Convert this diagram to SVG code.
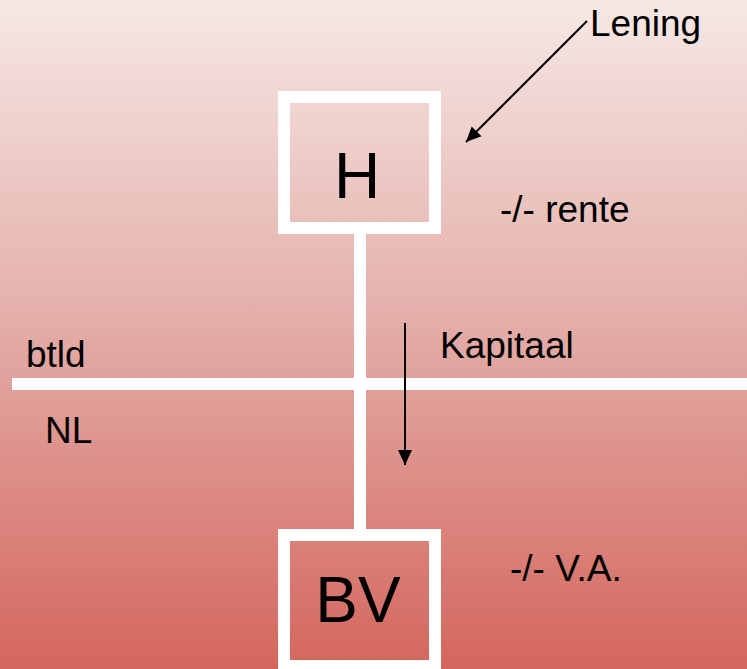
<svg xmlns="http://www.w3.org/2000/svg" width="747" height="669" viewBox="0 0 747 669">
  <defs>
    <linearGradient id="bg" x1="0" y1="0" x2="0" y2="1">
      <stop offset="0" stop-color="#F6E8E5"/>
      <stop offset="0.5" stop-color="#E3ABA6"/>
      <stop offset="1" stop-color="#D4665D"/>
    </linearGradient>
    <marker id="arr" markerUnits="userSpaceOnUse" markerWidth="16" markerHeight="16" viewBox="0 0 16 16" refX="15" refY="8" orient="auto">
      <path d="M0,1 L15,8 L0,15 Z" fill="#000"/>
    </marker>
    <style>
      .t { font-family: "Liberation Sans", Arial, sans-serif; font-size: 37px; fill: #000; }
      .big { font-family: "Liberation Sans", Arial, sans-serif; font-size: 64px; fill: #000; text-anchor: middle; }
      .box { fill: none; stroke: #fff; stroke-width: 12; }
      .bar { stroke: #fff; stroke-width: 12; }
      .arrow { stroke: #000; stroke-width: 2; fill: none; marker-end: url(#arr); }
    </style>
  </defs>
  <rect x="0" y="0" width="747" height="669" fill="url(#bg)"/>
  <g id="connectors">
    <line class="bar" x1="360" y1="228" x2="360" y2="535"/>
    <line class="bar" x1="12" y1="384" x2="747" y2="384"/>
    <line class="arrow" x1="587" y1="21" x2="466" y2="142"/>
    <line class="arrow" x1="405" y1="323" x2="405" y2="465"/>
  </g>
  <g id="node-H">
    <rect class="box" x="284" y="97" width="151" height="131"/>
    <text class="big" x="357" y="198">H</text>
  </g>
  <g id="node-BV">
    <rect class="box" x="284" y="535" width="151" height="131"/>
    <text class="big" x="358" y="622">BV</text>
  </g>
  <g id="labels">
    <text class="t" x="590" y="36">Lening</text>
    <text class="t" x="500" y="222">-/- rente</text>
    <text class="t" x="440" y="358">Kapitaal</text>
    <text class="t" x="26" y="367">btld</text>
    <text class="t" x="45" y="443">NL</text>
    <text class="t" x="510" y="581">-/- V.A.</text>
  </g>
</svg>
